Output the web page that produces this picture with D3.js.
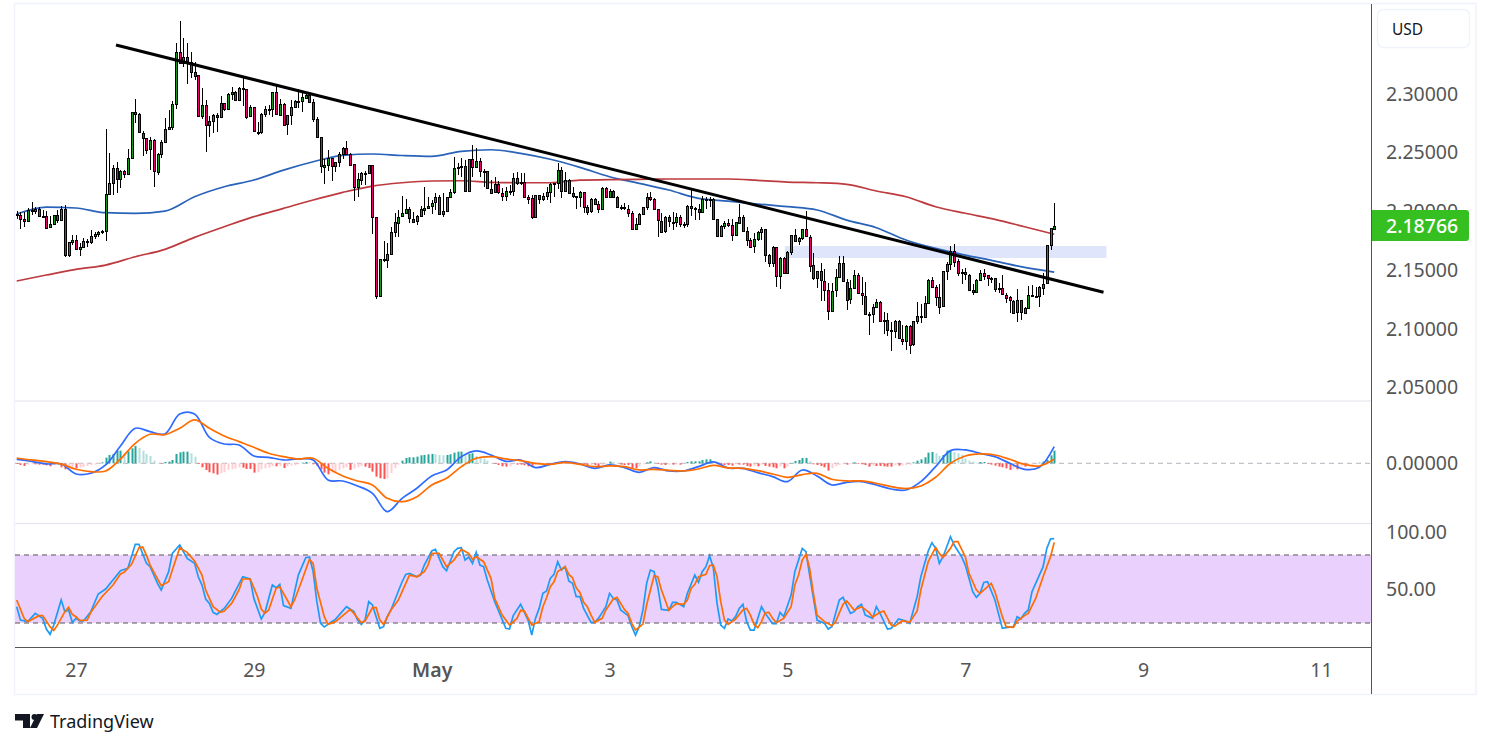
<!DOCTYPE html>
<html>
<head>
<meta charset="utf-8">
<script src="https://cdn.jsdelivr.net/npm/d3@7/dist/d3.min.js"></script>
<style>
  html, body { margin: 0; padding: 0; background: #fff; }
  svg { display: block; }
  text { font-family: "Noto Sans", "Open Sans", sans-serif; }
</style>
</head>
<body>
<svg id="chart" width="1491" height="748"></svg>
<script>
// hourly candles, bar 0 = 26 Apr 08:00, each open is the close before it
const firstBar = Date.UTC(2025, 3, 26, 8);
const firstOpen = 2.1978;

const closes = [
  2.1972,2.1938,2.1921,2.2012,2.2001,2.2020,2.1958,2.1964,2.1861,2.1890,
  2.1967,2.1921,2.2018,2.1623,2.1737,2.1754,2.1674,2.1694,2.1745,2.1737,
  2.1788,2.1805,2.1822,2.1830,2.2146,2.2239,2.2367,2.2273,2.2341,2.2316,
  2.2452,2.2844,2.2827,2.2671,2.2628,2.2529,2.2606,2.2339,2.2489,2.2591,
  2.2699,2.2719,2.2915,2.3355,2.3262,2.3313,2.3276,2.3191,2.3159,2.2807,
  2.2904,2.2731,2.2767,2.2819,2.2799,2.2921,2.2870,2.3000,2.3015,2.2949,
  2.3049,2.3046,2.2807,2.2887,2.2679,2.2677,2.2827,2.2870,2.2870,2.3015,
  2.2824,2.2915,2.2739,2.2819,2.2887,2.2938,2.2935,2.2972,2.2995,2.2935,
  2.2787,2.2631,2.2381,2.2395,2.2452,2.2381,2.2418,2.2486,2.2540,2.2492,
  2.2401,2.2202,2.2273,2.2330,2.2327,2.2393,2.1950,2.1274,2.1592,2.1586,
  2.1634,2.1822,2.1907,2.1955,2.1983,2.2018,2.1938,2.1915,2.1961,2.2018,
  2.2032,2.2046,2.2074,2.2120,2.1972,2.2000,2.2120,2.2165,2.2370,2.2375,
  2.2384,2.2171,2.2444,2.2375,2.2426,2.2338,2.2341,2.2194,2.2162,2.2230,
  2.2160,2.2137,2.2177,2.2174,2.2284,2.2245,2.2250,2.2125,2.2111,2.1947,
  2.2137,2.2103,2.2131,2.2165,2.2230,2.2239,2.2353,2.2177,2.2267,2.2154,
  2.2131,2.2125,2.2165,2.2040,2.2000,2.2106,2.2063,2.2023,2.2202,2.2125,
  2.2174,2.2125,2.2040,2.2034,2.2023,2.1989,2.1853,2.1893,2.1978,2.2034,
  2.2120,2.2103,2.2018,2.1921,2.1827,2.1949,2.1912,2.1904,2.1949,2.1887,
  2.1890,2.2046,2.2026,2.2018,2.1992,2.2106,2.2103,2.2103,2.1932,2.1785,
  2.1873,2.1901,2.1887,2.1799,2.1907,2.1955,2.1836,2.1759,2.1699,2.1762,
  2.1822,2.1850,2.1631,2.1563,2.1699,2.1455,2.1606,2.1478,2.1654,2.1796,
  2.1745,2.1773,2.1847,2.1785,2.1540,2.1427,2.1489,2.1410,2.1330,2.1154,
  2.1325,2.1438,2.1558,2.1401,2.1251,2.1345,2.1455,2.1302,2.1282,2.1126,
  2.1120,2.1183,2.1225,2.1063,2.1072,2.0987,2.0981,2.1063,2.0916,2.0899,
  2.1026,2.0867,2.1063,2.1109,2.1103,2.1220,2.1416,2.1359,2.1274,2.1188,
  2.1489,2.1552,2.1665,2.1575,2.1469,2.1481,2.1461,2.1330,2.1316,2.1416,
  2.1478,2.1455,2.1430,2.1435,2.1342,2.1345,2.1291,2.1268,2.1239,2.1137,
  2.1242,2.1137,2.1177,2.1285,2.1279,2.1274,2.1353,2.1384,2.1711,2.1855,
  2.18766
];
const highs = [
  2.2003,2.1998,2.1995,2.2026,2.2080,2.2035,2.2035,2.2012,2.2003,2.1961,
  2.1972,2.2012,2.2046,2.2052,2.1737,2.1799,2.1799,2.1728,2.1773,2.1768,
  2.1842,2.1827,2.1833,2.1842,2.2702,2.2500,2.2395,2.2424,2.2353,2.2353,
  2.2529,2.2844,2.2955,2.2836,2.2688,2.2625,2.2637,2.2614,2.2495,2.2608,
  2.2793,2.2864,2.2941,2.3432,2.3622,2.3475,2.3432,2.3361,2.3276,2.3159,
  2.3049,2.2949,2.2813,2.2830,2.2836,2.2983,2.2927,2.3006,2.3057,2.3023,
  2.3063,2.3148,2.3040,2.2907,2.2892,2.2762,2.2836,2.2901,2.2907,2.3015,
  2.3068,2.2955,2.2921,2.2821,2.2949,2.2949,2.3046,2.3026,2.3012,2.3006,
  2.2955,2.2802,2.2637,2.2444,2.2523,2.2458,2.2424,2.2509,2.2552,2.2600,
  2.2500,2.2407,2.2324,2.2339,2.2347,2.2393,2.2393,2.1955,2.1592,2.1751,
  2.1728,2.1870,2.1989,2.2012,2.2131,2.2103,2.2040,2.1998,2.1966,2.2046,
  2.2205,2.2125,2.2097,2.2154,2.2140,2.2154,2.2125,2.2188,2.2466,2.2409,
  2.2455,2.2438,2.2449,2.2566,2.2537,2.2452,2.2358,2.2338,2.2267,2.2290,
  2.2262,2.2196,2.2211,2.2225,2.2324,2.2338,2.2330,2.2324,2.2140,2.2140,
  2.2140,2.2140,2.2154,2.2211,2.2239,2.2245,2.2415,2.2375,2.2338,2.2279,
  2.2205,2.2131,2.2174,2.2168,2.2052,2.2111,2.2111,2.2091,2.2205,2.2211,
  2.2188,2.2182,2.2134,2.2054,2.2074,2.2057,2.2003,2.1944,2.1983,2.2040,
  2.2154,2.2168,2.2117,2.2018,2.1983,2.1961,2.1969,2.1998,2.1983,2.1969,
  2.1912,2.2052,2.2182,2.2040,2.2063,2.2131,2.2125,2.2125,2.2114,2.1921,
  2.1881,2.1921,2.1932,2.1932,2.1912,2.2063,2.1972,2.1864,2.1770,2.1813,
  2.1836,2.1870,2.1836,2.1637,2.1705,2.1665,2.1614,2.1614,2.1660,2.1802,
  2.1847,2.1785,2.1853,2.2001,2.1799,2.1643,2.1492,2.1558,2.1506,2.1393,
  2.1393,2.1506,2.1620,2.1620,2.1421,2.1416,2.1501,2.1478,2.1438,2.1401,
  2.1146,2.1211,2.1251,2.1239,2.1146,2.1137,2.1060,2.1075,2.1075,2.1032,
  2.1032,2.1032,2.1069,2.1228,2.1211,2.1279,2.1421,2.1444,2.1370,2.1381,
  2.1495,2.1572,2.1705,2.1719,2.1592,2.1506,2.1515,2.1467,2.1381,2.1421,
  2.1501,2.1506,2.1461,2.1444,2.1435,2.1387,2.1458,2.1302,2.1282,2.1242,
  2.1336,2.1248,2.1188,2.1364,2.1373,2.1359,2.1364,2.1472,2.1711,2.1856,
  2.2069
];
const lows = [
  2.1938,2.1853,2.1870,2.1913,2.1967,2.1978,2.1955,2.1950,2.1859,2.1870,
  2.1887,2.1904,2.1915,2.1614,2.1614,2.1714,2.1671,2.1623,2.1685,2.1694,
  2.1722,2.1768,2.1785,2.1808,2.1751,2.2148,2.2140,2.2154,2.2197,2.2282,
  2.2310,2.2458,2.2750,2.2665,2.2475,2.2489,2.2353,2.2211,2.2310,2.2452,
  2.2586,2.2713,2.2694,2.2870,2.3253,2.3228,2.3086,2.3134,2.3120,2.2807,
  2.2785,2.2509,2.2637,2.2665,2.2677,2.2802,2.2856,2.2870,2.2949,2.2938,
  2.2944,2.2898,2.2785,2.2802,2.2674,2.2651,2.2662,2.2807,2.2821,2.2807,
  2.2819,2.2819,2.2733,2.2651,2.2739,2.2881,2.2881,2.2850,2.2963,2.2927,
  2.2765,2.2625,2.2324,2.2231,2.2344,2.2259,2.2339,2.2375,2.2446,2.2486,
  2.2395,2.2091,2.2126,2.2225,2.2222,2.2319,2.1808,2.1257,2.1268,2.1572,
  2.1515,2.1643,2.1785,2.1785,2.1949,2.1978,2.1898,2.1910,2.1887,2.1955,
  2.1969,2.2026,2.1978,2.2012,2.1966,2.1949,2.1998,2.2111,2.2148,2.2310,
  2.2296,2.2165,2.2182,2.2296,2.2375,2.2296,2.2211,2.2188,2.2154,2.2154,
  2.2148,2.2091,2.2091,2.2140,2.2134,2.2225,2.2225,2.2111,2.2063,2.1932,
  2.1941,2.2063,2.2086,2.2097,2.2069,2.2125,2.2191,2.2114,2.2171,2.2145,
  2.2111,2.2018,2.2040,2.1983,2.1969,2.1983,2.2054,2.1983,2.2034,2.2120,
  2.2120,2.2120,2.2034,2.2012,2.2012,2.1949,2.1847,2.1841,2.1881,2.1972,
  2.2012,2.2091,2.2012,2.1785,2.1813,2.1813,2.1870,2.1841,2.1870,2.1870,
  2.1861,2.1864,2.1961,2.1927,2.1927,2.1983,2.2018,2.2040,2.1927,2.1779,
  2.1796,2.1853,2.1864,2.1748,2.1796,2.1907,2.1830,2.1708,2.1694,2.1648,
  2.1751,2.1756,2.1572,2.1523,2.1523,2.1359,2.1342,2.1472,2.1472,2.1628,
  2.1739,2.1714,2.1756,2.1779,2.1484,2.1416,2.1345,2.1239,2.1239,2.1075,
  2.1146,2.1268,2.1438,2.1396,2.1160,2.1208,2.1345,2.1296,2.1203,2.1120,
  2.0947,2.1046,2.1183,2.1058,2.0955,2.0941,2.0813,2.0919,2.0910,2.0859,
  2.0819,2.0788,2.0853,2.1041,2.1046,2.1109,2.1217,2.1353,2.1194,2.1126,
  2.1183,2.1416,2.1501,2.1523,2.1450,2.1381,2.1416,2.1325,2.1285,2.1310,
  2.1404,2.1416,2.1364,2.1387,2.1313,2.1302,2.1285,2.1217,2.1137,2.1132,
  2.1060,2.1075,2.1123,2.1183,2.1274,2.1259,2.1183,2.1288,2.1381,2.1671,
  2.1864
];

// moving averages, read every 8 bars from bar 0
const maStep = 8;
const blueMA = [
  2.1978,2.2037,2.2029,2.1989,2.1984,2.2003,2.2125,2.2210,2.2267,2.2352,
  2.2423,2.2478,2.2489,2.2476,2.2469,2.2512,2.2525,2.2495,2.2444,2.2375,
  2.2295,2.2239,2.2182,2.2111,2.2088,2.2063,2.2040,2.2012,2.1926,2.1861,
  2.1756,2.1685,2.1628,2.1577,2.1523,2.1483
];
const redMA = [
  2.1407,2.1458,2.1506,2.1543,2.1614,2.1677,2.1779,2.1869,2.1955,2.2026,
  2.2097,2.2162,2.2216,2.2244,2.2259,2.2261,2.2248,2.2244,2.2244,2.2267,
  2.2270,2.2273,2.2276,2.2276,2.2276,2.2265,2.2250,2.2244,2.2231,2.2174,
  2.2125,2.2040,2.1984,2.1932,2.1869,2.1805
];

// drawings on the price pane
const trendBars = [26.8, 293.3];
const trendPrices = [2.3417, 2.1311];
const zoneBars = [207.3, 294.1];
const zonePrices = [2.1705, 2.1603];

// MACD, read every 4 bars from bar 0
const macdStep = 4;
const macdLine = [
  .0012,.0006,-.0002,-.0002,-.0032,-.003,-.0005,.0052,.0105,.0095,.0088,.0148,.0148,.0078,.0058,.0055,
  .0022,.0018,.001,.0013,.001,-.005,-.0053,-.0068,-.009,-.0145,-.0105,-.0075,-.0038,-.002,.002,.0037,
  .0025,.0006,.001,-.0013,-.0003,.0005,-.0002,-.0015,-.0005,-.0013,-.0027,-.0013,-.0023,-.0023,-.001,.0004,
  -.0014,-.0015,-.0028,-.004,-.0055,-.002,-.0038,-.0065,-.0057,-.0055,-.0065,-.0077,-.008,-.0055,-.001,.0038,
  .004,.003,.002,0,-.0018,-.0012,.005
];
const macdSignal = [
  .0016,.001,.0005,-.0002,-.0018,-.0025,-.0023,.0013,.006,.0087,.0086,.0105,.013,.0105,.0082,.0065,
  .0048,.003,.002,.0013,.0015,-.0015,-.0038,-.0053,-.0065,-.0105,-.0115,-.01,-.0065,-.0045,-.001,.0015,
  .002,.0013,.0008,0,-.0003,.0003,-.0003,-.001,-.0008,-.001,-.002,-.0018,-.0021,-.0023,-.0017,-.0006,
  -.0014,-.0015,-.0022,-.0032,-.0042,-.0034,-.003,-.0048,-.0053,-.0053,-.006,-.007,-.0076,-.0068,-.0042,0,
  .0022,.0028,.0025,.0012,-.0003,-.0008,.0012
];
const macdHist = [
  -.0002,-.0005,-.0008,-.0004,-.0003,-.0003,-.0004,-.0004,-.0006,-.0009,-.0005,-.0003,-.0012,-.0018,-.0015,-.0013,-.0015,-.0013,-.0012,-.0008,
  -.0006,-.0004,-.0002,.0003,.0017,.0025,.0028,.0038,.0038,.003,.0036,.0045,.0052,.0046,.0038,.0028,.0022,.0008,.0001,-.0001,
  .0004,.0005,.001,.0028,.0033,.0035,.0035,.003,.002,-.0002,-.0012,-.002,-.0027,-.003,-.0034,-.0029,-.0027,-.002,-.0018,-.0016,
  -.0012,-.0013,-.0017,-.0017,-.0028,-.0027,-.0018,-.0015,-.0013,-.0009,-.0009,-.0008,-.0014,-.0009,-.0007,-.0006,-.0003,.0002,.0004,.0003,
  -.0003,-.0008,-.0018,-.0028,-.0033,-.0028,-.0025,-.002,-.0015,-.0012,-.002,-.0016,-.0012,-.0008,-.001,-.0014,-.0025,-.004,-.0045,-.0047,
  -.0045,-.003,-.0015,-.0004,.0008,.0016,.0018,.0018,.002,.0024,.0025,.0027,.0028,.0027,.0025,.0024,.0025,.0027,.0032,.0035,
  .0035,.0027,.0028,.003,.0022,.0018,.0014,.0008,.0001,-.0002,-.0005,-.0009,-.001,-.0009,-.0003,-.0004,-.0004,-.0006,-.0009,-.001,
  -.0006,-.0003,-.0002,-.0002,-.0002,-.0002,-.0002,-.0002,-.0001,-.0001,-.0001,-.0002,-.0002,-.0002,-.0008,-.0005,-.0005,-.0012,-.0004,-.0003,
  .0005,.0004,.0001,-.0004,-.0005,-.0005,-.0014,-.0015,-.0008,-.0003,.0003,.0006,.0002,-.0002,-.0004,-.0005,-.0004,-.0004,-.0003,-.0004,
  -.0001,.0004,.0006,.0006,.0006,.001,.0012,.0012,.0003,-.0003,-.0004,-.0005,-.0005,-.0007,-.0003,-.0004,-.0004,-.0008,-.001,-.0009,
  -.0009,-.0004,-.0008,-.001,-.0012,-.0015,-.0009,-.0015,-.001,.0001,.0007,.001,.0016,.0016,.0006,-.0003,-.0005,-.0008,-.0012,-.0022,
  -.0015,-.0008,-.0005,-.0003,-.0004,-.0002,.0003,-.0002,-.0003,-.0005,-.001,-.0007,-.0008,-.0008,-.0009,-.001,-.001,-.0006,-.0007,-.0006,
  -.0005,-.0004,.0003,.0008,.0012,.0018,.0032,.0034,.003,.0022,.0025,.0038,.0038,.0034,.003,.0026,.0014,.0008,.0005,.0002,
  .0004,.0004,-.0002,-.0004,-.0007,-.001,-.0012,-.0015,-.002,-.0016,-.0018,-.001,-.001,-.0008,-.0006,-.0003,.0002,.0005,.001,.0024,
  .0038
];

// Stoch RSI, vertices of each line as bar index + reading
const kBars = [
  0,1,3,5,7,8,9,10,12,13,14,15,16,17,18,20,22,24,28,30,32,33,35,36,38,39,41,42,44,46,
  48,49,50,51,52,53,54,56,58,61,63,64,66,67,68,69,70,71,72,74,76,78,79,80,81,82,83,85,86,89,
  91,92,93,94,95,96,98,99,100,101,104,105,106,108,109,110,112,113,115,116,118,119,120,121,122,123,124,125,126,127,
  129,132,133,134,136,138,139,140,141,142,143,144,145,146,147,148,149,150,151,152,153,155,156,157,159,160,161,162,163,165,
  166,167,168,169,170,171,172,173,174,176,177,178,180,181,183,184,185,186,187,188,189,190,191,192,193,194,195,196,197,198,
  199,201,202,204,205,206,207,209,210,212,213,214,216,218,219,220,222,223,225,226,227,228,229,231,232,233,235,236,238,240,
  241,243,244,246,247,248,249,250,252,253,255,256,258,259,260,261,262,264,266,267,269,270,271,272,273,274,277,278,279,280
];
const kValues = [
  34.4,22.6,21.2,28.5,24.1,14.7,10,18.2,40.3,30,31.5,20.6,24.1,21.8,21.8,30,45.6,50,66.1,68.2,89.4,89.4,72.6,69.7,55,49.1,65.3,81.4,88.8,77,
  72.6,60.8,53.5,41.2,37.3,29.4,27.6,32.9,41.7,60.8,58.8,41.7,23.5,29.4,41.7,53.5,51.1,54.1,35.3,32.9,62.3,77.6,78.2,65.3,38.8,19.7,16.5,21.2,23.2,34.4,
  30,22.6,18.8,22.6,38.8,35.9,15.3,16.8,25.6,31.5,56.4,62.9,63.8,60.8,62.3,71.1,83.5,84.9,69.7,66.1,82.9,85.8,86.4,75.5,78.2,72.6,82.3,71.1,69.7,57.9,
  38.8,15.3,14.7,26.5,36.5,22.6,9.4,24.1,32.9,46.2,48.2,59.4,62.9,74.1,66.7,69.7,57,55,43.2,43.2,32.9,20.6,20.6,24.1,34.4,46.2,41.7,40.3,31.5,26.5,
  16.8,9.4,16.8,31.5,55,66.7,65.3,52,32,31.2,38.2,38.2,34.4,46.2,62.3,55.8,65.3,69.7,79.4,68.8,37.3,18.2,15.3,23.5,21.8,25.6,32.9,36.5,21.2,13.8,
  13.8,34.4,28.5,19.4,19.4,29.4,25.6,44.7,65.3,85.8,82.9,62.3,22.6,19.7,14.7,16.8,40.3,42.6,28.5,30,34.4,36.5,27,24.1,34.4,28.5,14.7,15.3,23.5,21.8,
  19.7,43.2,60.8,83.5,90.8,85.8,72.6,78.5,96.1,88.8,78.5,71.1,47.6,42.6,46.2,55.8,56.4,40.3,15.3,15.9,16.8,25.6,23.5,28.5,31.5,47.6,69.7,85.8,94.1,94.4
];
const dBars = [
  0,2,3,6,7,9,10,11,13,14,15,16,17,19,20,23,26,28,29,31,33,34,35,36,39,41,42,44,46,48,
  50,51,52,53,55,56,58,60,61,63,65,66,67,68,70,71,73,74,75,77,79,80,81,83,84,86,88,90,91,93,
  94,96,97,98,99,101,103,105,106,108,110,111,112,114,116,118,120,122,123,124,126,128,129,131,133,135,136,137,139,141,
  142,143,144,145,146,148,149,150,151,152,153,154,155,156,158,159,161,162,164,165,166,167,169,170,172,173,174,176,177,178,
  180,181,182,183,184,186,187,188,189,190,191,192,194,196,197,198,199,200,201,202,203,204,205,207,209,210,211,212,213,214,
  215,216,218,220,221,223,224,226,228,230,231,233,234,236,237,239,241,243,244,246,248,249,250,252,253,254,256,257,259,260,
  263,264,266,267,269,270,272,273,275,277,279,280
];
const dValues = [
  40.3,24.1,21.2,26.5,26.5,16.8,13.5,18.2,30,33.8,27.6,25.6,22.3,22.6,29.4,43.2,53.5,63.2,64.7,71.7,86.4,87,79.9,71.1,52.9,56.4,66.7,86.4,82.3,74.7,
  62.3,49.1,41.7,34.4,29.4,30.6,37.3,49.1,58.8,58.8,43.2,32.3,28.5,31.5,50.6,52,40.3,34.4,40.3,57.9,76.1,72.6,50.6,25.6,18.8,21.2,26.5,32,28.5,20.3,
  21.8,33.5,33.5,22.6,18.8,31.5,40.3,55,62.3,60.8,65.3,71.1,81.4,81.4,69.7,75.5,85,81.4,76.1,78.5,74.1,59.4,41.7,27,18.2,24.1,31.2,30.6,18.2,21.2,
  34.4,42.3,52,56.4,65.3,69.7,62.9,60,51.1,47,38.2,34.4,27,20.6,24.1,31.5,41.2,42.6,32,28.5,19.7,13.8,19.1,35.9,61.7,60.8,49.1,31.2,34.4,37,
  36.5,40.3,50.6,54.1,60.8,62.9,70.5,71.1,60.8,38.8,22.6,18.8,23.5,31.5,32.9,27,18.8,15.9,21.2,29.1,29.4,24.1,20.3,24.1,34.4,53.5,62.3,75.5,80.5,68.2,
  46.2,27,21.2,17.6,21.2,36.5,39.4,31.5,34.4,29.4,25.3,29.4,30.6,18.2,17.3,22,20.6,30.6,49.1,74.1,86.7,81.4,77.9,85.8,91.7,91.7,78.5,63.8,49.1,46.2,
  55,47.6,25.6,16.8,16.2,21.8,26.5,28.5,41.7,60.8,78.5,91.1
];
const stochBands = [20, 80];

// axis ticks
const priceTicks = [2.05, 2.10, 2.15, 2.20, 2.25, 2.30];
const macdTicks = [0];
const stochTicks = [50, 100];
const lastPrice = 2.18766;
const timeTicks = [[2025,3,27],[2025,3,29],[2025,4,1],[2025,4,3],[2025,4,5],[2025,4,7],[2025,4,9],[2025,4,11]];
const timeLabels = ["27","29","May","3","5","7","9","11"];

const GREEN = "#16991a", PINK = "#e8006f";
const svg = d3.select("#chart");

function barTime(i) { return new Date(firstBar + i * 3600000); }

var x = d3.scaleUtc()
  .domain([new Date(Date.UTC(2025, 3, 27)), new Date(Date.UTC(2025, 4, 11))])
  .range([76, 1321]);
var y = d3.scaleLinear().domain([2.05, 2.30]).range([387.5, 94]);
var yMacd = d3.scaleLinear().domain([-0.01791, 0.01869]).range([523, 401]);
var yStoch = d3.scaleLinear().domain([0, 100]).range([645.7, 532.3]);

// frame of the widget
svg.append("rect").attr("x", 14.5).attr("y", 3.5).attr("width", 1461.5).attr("height", 691)
  .attr("fill", "none").attr("stroke", "#f0f3fa").attr("stroke-width", 1.5);

// --- price pane ---
const opens = closes.map((c, i) => i === 0 ? firstOpen : closes[i - 1]);
const bars = closes.map((c, i) => ({ i, o: opens[i], h: highs[i], l: lows[i], c }));

svg.append("rect").attr("x", x(barTime(zoneBars[0]))).attr("y", y(zonePrices[0]))
  .attr("width", x(barTime(zoneBars[1])) - x(barTime(zoneBars[0])))
  .attr("height", y(zonePrices[1]) - y(zonePrices[0]))
  .attr("fill", "#dfe6fc");

const maLine = (scale, step, curve) => d3.line()
  .x((d, i) => x(barTime(i * step)))
  .y(d => scale(d))
  .curve(curve);

svg.append("path").datum(blueMA).attr("d", maLine(y, maStep, d3.curveMonotoneX))
  .attr("fill", "none").attr("stroke", "#2862b9").attr("stroke-width", 1.7);
svg.append("path").datum(redMA).attr("d", maLine(y, maStep, d3.curveMonotoneX))
  .attr("fill", "none").attr("stroke", "#bd3a3f").attr("stroke-width", 1.7);

const cx = d => Math.round(x(barTime(d.i))) + 0.5;
const candles = svg.append("g").selectAll("g").data(bars).join("g");
candles.append("line")
  .attr("x1", cx).attr("x2", cx)
  .attr("y1", d => y(d.h)).attr("y2", d => y(d.l))
  .attr("stroke", "#000").attr("stroke-width", 1).attr("shape-rendering", "crispEdges");
candles.append("rect")
  .attr("x", d => cx(d) - 1).attr("width", 2)
  .attr("y", d => Math.round(y(Math.max(d.o, d.c))) + 0.5)
  .attr("height", d => Math.max(1, Math.round(Math.abs(y(d.o) - y(d.c)))))
  .attr("fill", d => d.c >= d.o ? GREEN : PINK)
  .attr("stroke", "#000").attr("stroke-width", 1).attr("shape-rendering", "crispEdges");

svg.append("line")
  .attr("x1", x(barTime(trendBars[0]))).attr("y1", y(trendPrices[0]))
  .attr("x2", x(barTime(trendBars[1]))).attr("y2", y(trendPrices[1]))
  .attr("stroke", "#000").attr("stroke-width", 3);

// --- MACD pane ---
const paneL = 15, paneR = 1371;
svg.append("line").attr("x1", paneL).attr("x2", paneR).attr("y1", 401).attr("y2", 401)
  .attr("stroke", "#e0e3eb").attr("stroke-width", 1);
svg.append("line").attr("x1", paneL).attr("x2", paneR).attr("y1", 523.5).attr("y2", 523.5)
  .attr("stroke", "#e0e3eb").attr("stroke-width", 1);
svg.append("line").attr("x1", paneL).attr("x2", paneR).attr("y1", yMacd(0)).attr("y2", yMacd(0))
  .attr("stroke", "#b2b5be").attr("stroke-width", 1).attr("stroke-dasharray", "5 4");

function histColor(v, i) {
  const prev = i > 0 ? macdHist[i - 1] : 0;
  if (v >= 0) return v >= prev ? "#26a69a" : "#b2dfdb";
  return v <= prev ? "#ff5252" : "#ffcdd2";
}
svg.append("g").selectAll("rect").data(macdHist).join("rect")
  .attr("x", (v, i) => Math.round(x(barTime(i))) - 0.5)
  .attr("width", 2)
  .attr("y", v => Math.min(yMacd(v), yMacd(0)))
  .attr("height", v => Math.abs(yMacd(v) - yMacd(0)))
  .attr("fill", histColor);

svg.append("path").datum(macdLine).attr("d", maLine(yMacd, macdStep, d3.curveCatmullRom))
  .attr("fill", "none").attr("stroke", "#2f6bff").attr("stroke-width", 1.7);
svg.append("path").datum(macdSignal).attr("d", maLine(yMacd, macdStep, d3.curveCatmullRom))
  .attr("fill", "none").attr("stroke", "#ff6d00").attr("stroke-width", 1.7);

// --- Stoch RSI pane ---
svg.append("rect").attr("x", paneL).attr("width", paneR - paneL)
  .attr("y", yStoch(stochBands[1])).attr("height", yStoch(stochBands[0]) - yStoch(stochBands[1]))
  .attr("fill", "#ead0fd");
svg.append("g").selectAll("line").data(stochBands).join("line")
  .attr("x1", paneL).attr("x2", paneR)
  .attr("y1", d => yStoch(d)).attr("y2", d => yStoch(d))
  .attr("stroke", "#555").attr("stroke-width", 1).attr("stroke-dasharray", "5 4");

const stochLine = (bars) => d3.line()
  .x((d, i) => x(barTime(bars[i])))
  .y(d => yStoch(d));
svg.append("path").datum(kValues).attr("d", stochLine(kBars))
  .attr("fill", "none").attr("stroke", "#1e9bf5").attr("stroke-width", 1.7);
svg.append("path").datum(dValues).attr("d", stochLine(dBars))
  .attr("fill", "none").attr("stroke", "#ff6d00").attr("stroke-width", 1.7);

// --- axes ---
function styleAxis(g) {
  g.select(".domain").remove();
  g.selectAll("line").remove();
  g.selectAll("text").attr("fill", "#555").style("font-size", "19.5px");
}
const priceFmt = d => d.toFixed(5);
svg.append("g").attr("transform", "translate(1371,0)")
  .call(d3.axisRight(y).tickValues(priceTicks).tickFormat(priceFmt).tickSize(0).tickPadding(15))
  .call(styleAxis);
svg.append("g").attr("transform", "translate(1371,0)")
  .call(d3.axisRight(yMacd).tickValues(macdTicks).tickFormat(priceFmt).tickSize(0).tickPadding(15))
  .call(styleAxis);
svg.append("g").attr("transform", "translate(1371,0)")
  .call(d3.axisRight(yStoch).tickValues(stochTicks).tickFormat(d => d.toFixed(2)).tickSize(0).tickPadding(15))
  .call(styleAxis);

const timeAxis = svg.append("g").attr("transform", "translate(0,648)")
  .call(d3.axisBottom(x)
    .tickValues(timeTicks.map(t => new Date(Date.UTC(t[0], t[1], t[2]))))
    .tickFormat((d, i) => timeLabels[i]).tickSize(0).tickPadding(15))
  .call(styleAxis);
timeAxis.selectAll("text").filter((d, i) => timeLabels[i] === "May").style("font-weight", 600);

svg.append("line").attr("x1", paneL).attr("x2", paneR + 0.5).attr("y1", 647.5).attr("y2", 647.5)
  .attr("stroke", "#555").attr("stroke-width", 1);
svg.append("line").attr("x1", 1371.5).attr("x2", 1371.5).attr("y1", 4).attr("y2", 694)
  .attr("stroke", "#555").attr("stroke-width", 1);

// currency box
svg.append("rect").attr("x", 1377.5).attr("y", 9.5).attr("width", 92).attr("height", 38).attr("rx", 6)
  .attr("fill", "#fff").attr("stroke", "#f0f3fa").attr("stroke-width", 1.5);
svg.append("text").attr("x", 1392).attr("y", 34.5).attr("fill", "#131722")
  .style("font-size", "15.5px").text("USD");

// last price tag
svg.append("path")
  .attr("d", "M1372,210H1466a3,3 0 0 1 3,3V238a3,3 0 0 1 -3,3H1372Z")
  .attr("fill", "#35bf20");
svg.append("text").attr("x", 1386).attr("y", y(lastPrice)).attr("dy", "0.34em")
  .attr("fill", "#fff").style("font-size", "19.5px").style("font-weight", 500)
  .text(lastPrice.toFixed(5));

// logo
const logo = svg.append("g").attr("fill", "#131722");
logo.append("path").attr("d", "M15,714H30V728H23V720.5H15Z");
logo.append("circle").attr("cx", 34.5).attr("cy", 717).attr("r", 3);
logo.append("path").attr("d", "M37,714H44L37,728H30Z");
svg.append("text").attr("x", 50).attr("y", 728).attr("fill", "#131722")
  .style("font-size", "18px").text("TradingView");
</script>
</body>
</html>
